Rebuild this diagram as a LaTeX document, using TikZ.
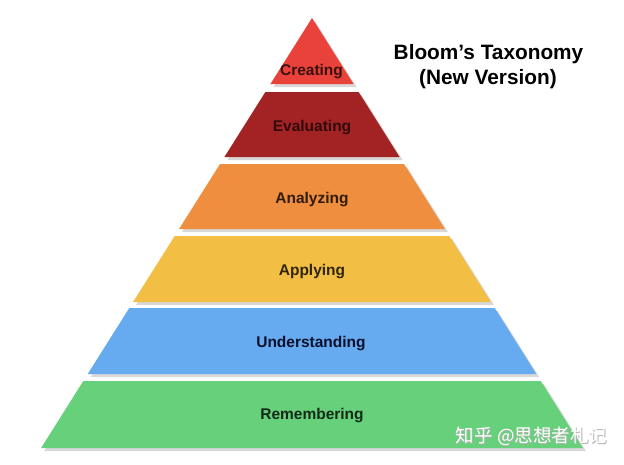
\documentclass[tikz,border=0pt]{standalone}
\usepackage{fontspec}
\setmainfont{Liberation Sans}
\newfontfamily\cjk{Noto Sans CJK SC}
\usetikzlibrary{shadows}
\definecolor{cCre}{RGB}{232,66,58}
\definecolor{cEva}{RGB}{163,34,36}
\definecolor{cAna}{RGB}{238,142,62}
\definecolor{cApp}{RGB}{242,190,68}
\definecolor{cUnd}{RGB}{102,170,240}
\definecolor{cRem}{RGB}{102,208,122}
\begin{document}
\begin{tikzpicture}[x=1pt,y=-1pt,
  bandshade/.style={drop shadow={shadow xshift=3pt,shadow yshift=-3pt,fill=black!30,opacity=0.5}},
  lbl/.style={font=\bfseries\fontsize{15.5}{17}\selectfont, inner sep=0pt, anchor=base},
  ttl/.style={font=\bfseries\fontsize{20.8}{25}\selectfont, text=black, inner sep=0pt, anchor=base},
  wm/.style={font=\cjk\fontsize{18.5}{20}\selectfont, inner sep=0pt}]
\useasboundingbox (0,0) rectangle (624,464);
\fill[white] (0,0) rectangle (624,464);
\foreach \t/\b/\c in {18/84/cCre, 92/157/cEva, 164/229/cAna, 236/302/cApp, 308/374/cUnd, 381/448/cRem}{
  \pgfmathsetmacro\ht{(\t-18)*0.63}
  \pgfmathsetmacro\hb{(\b-18)*0.63}
  \fill[\c, bandshade] (312-\ht,\t) -- (312+\ht,\t) -- (312+\hb,\b) -- (312-\hb,\b) -- cycle;
}
\node[lbl, text=cCre!25!black] (cre) at (311.5,75) {Creating};
\node[lbl, text=cEva!30!black] (eva) at (312,131) {Evaluating};
\node[lbl, text=cAna!20!black] (ana) at (312,203) {Analyzing};
\node[lbl, text=cApp!20!black] (app) at (312,275) {Applying};
\node[lbl, text=cUnd!10!black!92!blue] (und) at (311,347) {Understanding};
\node[lbl, text=cRem!20!black] (rem) at (312,419.5) {Remembering};
\node[ttl] (title1) at (488.5,59) {Bloom’s Taxonomy};
\node[ttl] (title2) at (488,84) {(New Version)};
\node[wm, text=black!30] (wmshadow) at (532.5,437.5) {知乎 @思想者札记};
\node[wm, text=white] (wmark) at (531.5,436.5) {知乎 @思想者札记};
\end{tikzpicture}
\end{document}
